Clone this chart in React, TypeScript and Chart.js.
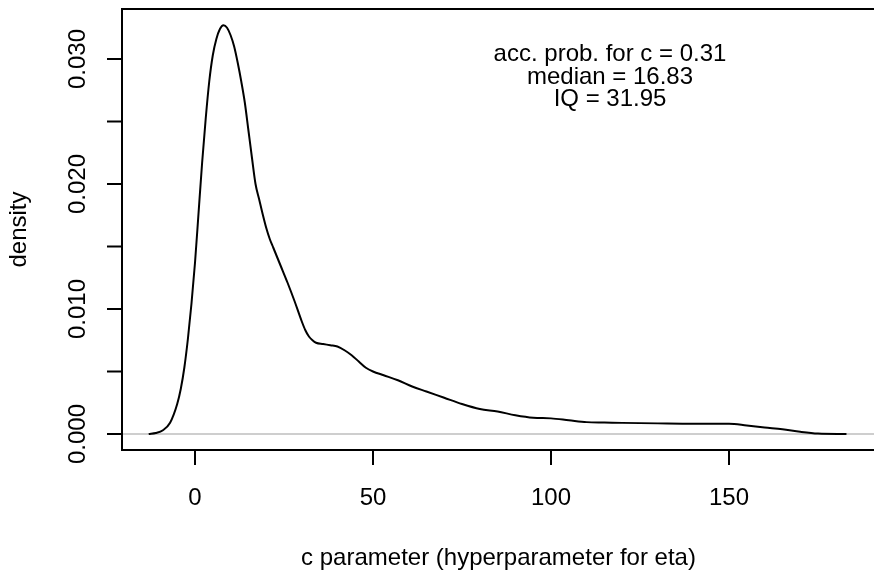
import React, { useEffect, useRef } from "react";
import { Chart, registerables } from "chart.js";

Chart.register(...registerables);

const X_VALUES = [
  -13, -11, -9, -7, -5, -4, -3, -2, -1, 0, 1, 2, 3, 4, 5, 6, 7, 8, 9, 10, 11, 12, 13, 14, 15, 16, 17,
  18, 19, 20, 21, 22, 24, 26, 28, 30, 31, 32, 33, 34, 36, 38, 40, 42, 44, 46, 48, 50, 53, 57, 61, 65,
  70, 75, 80, 85, 90, 95, 100, 105, 110, 115, 120, 130, 140, 150, 155, 160, 165, 170, 175, 183,
];
const DENSITY = [
  0, 0.00008, 0.0003, 0.0009, 0.0024, 0.0036, 0.0053, 0.0076, 0.0104, 0.0137, 0.0177, 0.0217, 0.0252,
  0.0282, 0.0303, 0.0316, 0.0324, 0.0327, 0.0325, 0.0319, 0.031, 0.0297, 0.0282, 0.0265, 0.0243,
  0.0221, 0.02, 0.0188, 0.0176, 0.0165, 0.0156, 0.0149, 0.0135, 0.0121, 0.0106, 0.009, 0.0083,
  0.0078, 0.0075, 0.0073, 0.0072, 0.0071, 0.007, 0.0067, 0.0063, 0.0058, 0.0053, 0.005, 0.0047,
  0.0043, 0.0038, 0.0034, 0.0029, 0.0024, 0.002, 0.0018, 0.0015, 0.0013, 0.00125, 0.0011, 0.00095,
  0.00092, 0.00089, 0.00085, 0.00082, 0.00082, 0.00068, 0.00052, 0.00038, 0.00018, 0.00004, 0,
];
const X_TICKS = [0, 50, 100, 150];
const Y_TICKS = [0, 0.005, 0.01, 0.015, 0.02, 0.025, 0.03];
const Y_TICK_LABELS = ["0.000", "", "0.010", "", "0.020", "", "0.030"];
const ANNOTATION = ["acc. prob. for c = 0.31", "median = 16.83", "IQ = 31.95"];
const X_TITLE = "c parameter (hyperparameter for eta)";
const Y_TITLE = "density";

const FONT = '24px "Liberation Sans", Arial, Helvetica, sans-serif';

const rPlotPlugin = {
  id: "rPlot",
  beforeDatasetsDraw(chart: any) {
    const { ctx, chartArea, scales } = chart;
    const y0 = scales.y.getPixelForValue(0);
    ctx.save();
    ctx.strokeStyle = "#bebebe";
    ctx.lineWidth = 1.5;
    ctx.beginPath();
    ctx.moveTo(chartArea.left, y0);
    ctx.lineTo(chartArea.right, y0);
    ctx.stroke();
    ctx.restore();
  },
  afterDraw(chart: any) {
    const { ctx, chartArea, scales } = chart;
    const { left, top, right, bottom } = chartArea;
    ctx.save();
    ctx.strokeStyle = "#000";
    ctx.lineWidth = 2;
    // box (left, top, bottom; right edge is outside the picture)
    ctx.beginPath();
    ctx.moveTo(right + 2, top);
    ctx.lineTo(left, top);
    ctx.lineTo(left, bottom);
    ctx.lineTo(right + 2, bottom);
    ctx.stroke();

    ctx.fillStyle = "#000";
    ctx.font = FONT;
    // x ticks
    ctx.textAlign = "center";
    ctx.textBaseline = "alphabetic";
    X_TICKS.forEach((v) => {
      const px = scales.x.getPixelForValue(v);
      ctx.beginPath();
      ctx.moveTo(px, bottom);
      ctx.lineTo(px, bottom + 15);
      ctx.stroke();
      ctx.fillText(String(v), px, 505);
    });
    // y ticks
    Y_TICKS.forEach((v, i) => {
      const py = scales.y.getPixelForValue(v);
      ctx.beginPath();
      ctx.moveTo(left, py);
      ctx.lineTo(left - 15, py);
      ctx.stroke();
      const lab = Y_TICK_LABELS[i];
      if (lab) {
        ctx.save();
        ctx.translate(85, py);
        ctx.rotate(-Math.PI / 2);
        ctx.textAlign = "center";
        ctx.textBaseline = "alphabetic";
        ctx.fillText(lab, 0, 0);
        ctx.restore();
      }
    });
    // axis titles
    ctx.textAlign = "center";
    ctx.fillText(X_TITLE, (left + 875) / 2, 565);
    ctx.save();
    ctx.translate(26, (top + bottom) / 2);
    ctx.rotate(-Math.PI / 2);
    ctx.fillText(Y_TITLE, 0, 0);
    ctx.restore();
    // annotation
    const ax = 610;
    const baselines = [61, 84, 106];
    ANNOTATION.forEach((t, i) => ctx.fillText(t, ax, baselines[i]));
    ctx.restore();
  },
};

export default function App() {
  const ref = useRef<HTMLCanvasElement | null>(null);
  useEffect(() => {
    if (!ref.current) return;
    const data = X_VALUES.map((x, i) => ({ x, y: DENSITY[i] }));
    const pxPerX = 3.56;
    const pxPerY = 12500;
    const xmin = -73 / pxPerX;
    const xmax = xmin + 752 / pxPerX;
    const ymin = -(450 - 434) / pxPerY;
    const ymax = (434 - 9) / pxPerY;
    const chart = new Chart(ref.current, {
      type: "line",
      data: {
        datasets: [
          {
            data,
            borderColor: "#000",
            borderWidth: 2,
            pointRadius: 0,
            fill: false,
            cubicInterpolationMode: "monotone",
          },
        ],
      },
      options: {
        responsive: false,
        animation: false,
        devicePixelRatio: 1,
        layout: { padding: { left: 122, top: 9, right: 0, bottom: 120 } },
        plugins: { legend: { display: false }, tooltip: { enabled: false } },
        scales: {
          x: { type: "linear", min: xmin, max: xmax, display: false },
          y: { type: "linear", min: ymin, max: ymax, display: false },
        },
      },
      plugins: [rPlotPlugin],
    });
    return () => chart.destroy();
  }, []);
  return (
    <div style={{ position: "absolute", left: 0, top: 0, width: 874, height: 570, background: "#fff" }}>
      <canvas ref={ref} width={874} height={570} style={{ display: "block" }} />
    </div>
  );
}
